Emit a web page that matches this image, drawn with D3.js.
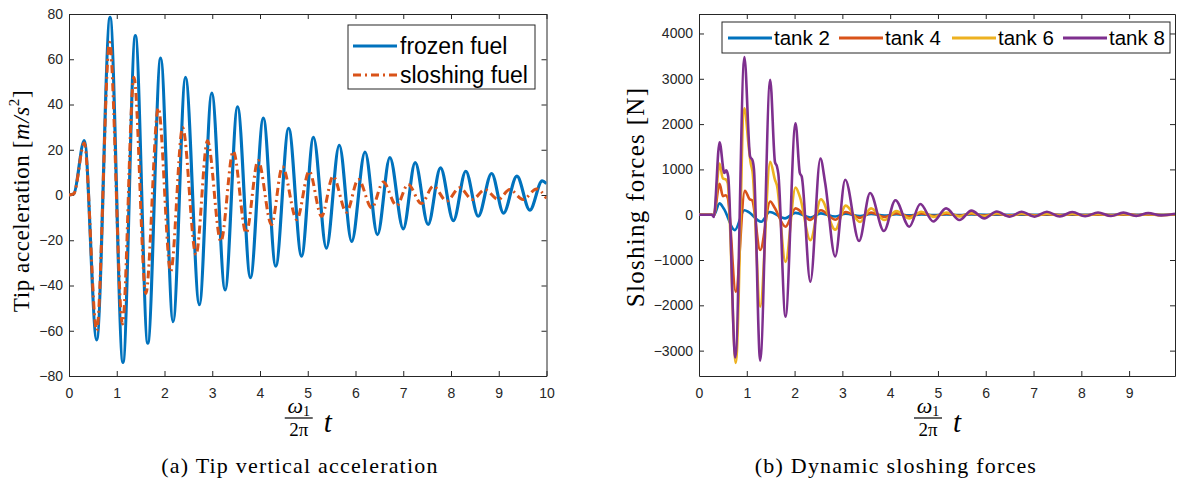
<!DOCTYPE html>
<html><head><meta charset="utf-8">
<script src="https://cdn.jsdelivr.net/npm/d3@7/dist/d3.min.js"></script>
<style>
body{margin:0;background:#fff;}
svg{display:block;}
.tick text{font-family:"Liberation Sans",Arial,sans-serif;font-size:14px;fill:#262626;}
.domain,.tick line{stroke:#262626;}
</style></head>
<body>
<script>
// ---------- DATA (a) Tip vertical acceleration ----------
const accelXTicks = [0,1,2,3,4,5,6,7,8,9,10];
const accelYTicks = [-80,-60,-40,-20,0,20,40,60,80];
const frozenT = [0,0.1,0.32,0.58,0.86,1.13,1.39,1.65,1.92,2.18,2.44,2.73,2.99,3.27,3.53,3.80,4.07,4.33,4.60,4.87,5.12,5.39,5.66,5.92,6.20,6.46,6.72,7.00,7.25,7.52,7.78,8.05,8.31,8.57,8.85,9.10,9.38,9.65,9.91,10];
const frozenV = [0,0.5,24,-64,78.5,-74,70.5,-65.5,60.5,-56,52,-48.5,45,-42,39,-36.5,34,-31.5,29.5,-27,25.5,-23.5,22,-20.5,19,-17.5,16.5,-15,14.3,-13,12,-11.3,10.5,-9.4,9.5,-8,8.3,-6.7,6.2,5];
const sloshT = [0,0.1,0.32,0.58,0.85,1.12,1.36,1.61,1.87,2.13,2.38,2.66,2.90,3.18,3.44,3.71,3.96,4.24,4.47,4.77,5.03,5.29,5.53,5.81,6.06,6.34,6.58,6.86,7.10,7.38,7.63,7.91,8.18,8.45,8.71,8.99,9.23,9.51,9.79,10];
const sloshV = [0,0.5,23,-60,67.5,-57,52,-43.5,38.5,-33.8,29.8,-26.4,24,-20.5,19.4,-16.8,15.3,-13.1,12.5,-10.9,10.5,-9.4,8.3,-7.6,6.9,-5.7,5.7,-4.7,4.7,-3.8,3.9,-2.7,3.2,-2,2.4,-2,2.4,-2,2.7,-1.5];
const accelSeries = ["frozen fuel","sloshing fuel"];

// ---------- DATA (b) Dynamic sloshing forces ----------
const forceXTicks = [0,1,2,3,4,5,6,7,8,9];
const forceYTicks = [-3000,-2000,-1000,0,1000,2000,3000,4000];
const tankNames = ["tank 2","tank 4","tank 6","tank 8"];
const tank2T = [0,0.27,0.31,0.43,0.52,0.75,0.95,1.05,1.30,1.48,1.80,2.02,2.33,2.55,2.85,3.07,3.37,3.60,3.88,4.13,4.40,4.65,4.92,5.18,5.45,5.70,6.0,7.0,8.0,9.0,9.96];
const tank2V = [0,0,-10,250,130,-340,100,50,-155,60,-80,40,-60,30,-40,20,-30,15,-20,10,-15,8,-10,5,-5,3,0,0,0,0,0];
const tank4T = [0,0.27,0.31,0.43,0.50,0.56,0.60,0.77,0.96,1.06,1.11,1.28,1.49,1.58,1.81,2.02,2.33,2.55,2.85,3.07,3.37,3.60,3.88,4.13,4.40,4.65,4.92,5.18,5.45,5.70,5.97,6.23,6.50,6.75,7.02,7.28,7.55,7.81,8.08,8.35,8.62,8.88,9.15,9.40,9.67,9.96];
const tank4V = [0,0,-20,680,410,430,380,-1700,530,340,320,-780,290,160,-265,140,-117,100,-110,60,-70,45,-50,35,-40,30,-30,25,-25,20,-20,15,-15,15,-12,12,-10,10,-10,8,-8,8,-6,6,-5,5];
const tank6T = [0,0.27,0.31,0.43,0.50,0.56,0.60,0.77,0.95,1.04,1.08,1.12,1.28,1.49,1.59,1.63,1.81,2.02,2.11,2.33,2.55,2.85,3.07,3.37,3.60,3.88,4.13,4.40,4.65,4.92,5.18,5.45,5.70,5.97,6.23,6.50,6.75,7.02,7.28,7.55,7.81,8.08,8.35,8.62,8.88,9.15,9.40,9.67,9.96];
const tank6V = [0,0,-30,1130,800,780,700,-3270,2350,1500,1150,950,-2030,1170,770,650,-1040,600,400,-560,340,-330,200,-160,140,-117,80,-80,66,-50,50,-40,40,-35,35,-30,30,-25,25,-20,20,-18,18,-15,15,-12,12,-10,10];
const tank8T = [0,0.27,0.31,0.43,0.53,0.57,0.61,0.76,0.95,1.07,1.12,1.15,1.28,1.49,1.59,1.63,1.66,1.81,2.02,2.11,2.15,2.33,2.54,2.64,2.85,3.06,3.35,3.58,3.87,4.11,4.40,4.63,4.90,5.17,5.45,5.70,5.97,6.23,6.50,6.75,7.02,7.28,7.55,7.81,8.08,8.35,8.62,8.88,9.15,9.40,9.67,9.96];
const tank8V = [0,0,-50,1600,920,980,850,-3150,3480,1280,1200,1000,-3220,2980,1160,1070,900,-2250,2020,920,840,-1480,1240,700,-920,770,-580,480,-360,320,-265,235,-150,140,-117,90,-80,70,-45,66,-45,66,-40,60,-35,50,-30,45,-25,35,-15,20];

// ---------- LAYOUT ----------
const W = 1184, H = 490;
const colors = {blue:"#0072BD", orange:"#D95319", yellow:"#EDB120", purple:"#7E2F8E"};
const svg = d3.select("body").append("svg").attr("width",W).attr("height",H);
const serif = "'Liberation Serif','Times New Roman',serif";
const sans = "'Liberation Sans',Arial,sans-serif";

function zip(T,V){return T.map((t,i)=>({t:t,v:V[i]}));}

function drawAxes(g, x, y, xt, yt, fmt){
  const [x0,x1] = x.range(), [y0,y1] = y.range();
  g.append("rect").attr("x",x0).attr("y",y1).attr("width",x1-x0).attr("height",y0-y1).attr("fill","#fff");
  g.append("g").attr("transform",`translate(0,${y0})`)
    .call(d3.axisBottom(x).tickValues(xt).tickSizeInner(-5).tickSizeOuter(0).tickPadding(12).tickFormat(fmt||d3.format("d")));
  g.append("g").attr("transform",`translate(0,${y1})`)
    .call(d3.axisTop(x).tickValues(xt).tickSizeInner(-5).tickSizeOuter(0).tickFormat(""));
  g.append("g").attr("transform",`translate(${x0},0)`)
    .call(d3.axisLeft(y).tickValues(yt).tickSizeInner(-5).tickSizeOuter(0).tickPadding(6).tickFormat(d3.format("d")));
  g.append("g").attr("transform",`translate(${x1},0)`)
    .call(d3.axisRight(y).tickValues(yt).tickSizeInner(-5).tickSizeOuter(0).tickFormat(""));
}

function clip(id, x, y){
  const [x0,x1] = x.range(), [y0,y1] = y.range();
  svg.append("clipPath").attr("id",id).append("rect")
    .attr("x",x0).attr("y",y1).attr("width",x1-x0).attr("height",y0-y1);
}

function xLabel(cx){
  const g = svg.append("g").attr("font-family",serif).attr("fill","#000");
  const fx = cx-9;
  const num = g.append("text").attr("x",fx).attr("y",413).attr("text-anchor","middle");
  num.append("tspan").attr("font-style","italic").attr("font-size",22).text("ω");
  num.append("tspan").attr("font-size",14).attr("dy",3).text("1");
  g.append("line").attr("x1",fx-14).attr("x2",fx+14).attr("y1",418).attr("y2",418).attr("stroke","#000").attr("stroke-width",1.2);
  g.append("text").attr("x",fx).attr("y",436).attr("text-anchor","middle").attr("font-size",19).text("2π");
  g.append("text").attr("x",cx+20).attr("y",432).attr("text-anchor","middle").attr("font-style","italic").attr("font-size",29).text("t");
}

// ---------- PANEL (a) ----------
const xa = d3.scaleLinear().domain([0,10]).range([69,546.5]);
const ya = d3.scaleLinear().domain([-80,80]).range([376,14]);
const ga = svg.append("g");
drawAxes(ga, xa, ya, accelXTicks, accelYTicks);
clip("clipA", xa, ya);
const lineA = d3.line().x(d=>xa(d.t)).y(d=>ya(d.v)).curve(d3.curveMonotoneX);
ga.append("path").attr("clip-path","url(#clipA)").attr("d",lineA(zip(frozenT,frozenV)))
  .attr("fill","none").attr("stroke",colors.blue).attr("stroke-width",3.2);
ga.append("path").attr("clip-path","url(#clipA)").attr("d",lineA(zip(sloshT,sloshV)))
  .attr("fill","none").attr("stroke",colors.orange).attr("stroke-width",3).attr("stroke-dasharray","8,4,2,4");

// legend (a)
const la = ga.append("g");
la.append("rect").attr("x",348).attr("y",25).attr("width",187).attr("height",64).attr("fill","#fff").attr("stroke","#262626").attr("stroke-width",1);
[[accelSeries[0],colors.blue,null,46],[accelSeries[1],colors.orange,"8,4,2,4",75]].forEach(([name,c,dash,yy])=>{
  la.append("line").attr("x1",353).attr("x2",397).attr("y1",yy).attr("y2",yy).attr("stroke",c).attr("stroke-width",3).attr("stroke-dasharray",dash);
  la.append("text").attr("x",400).attr("y",yy).attr("dy","0.35em").attr("font-family",sans).attr("font-size",23).attr("fill","#000").text(name);
});

// y label (a)
const yla = svg.append("text").attr("transform","translate(29,201) rotate(-90)").attr("text-anchor","middle")
  .attr("font-family",serif).attr("font-size",23).attr("letter-spacing",0.6).attr("fill","#000");
yla.append("tspan").text("Tip acceleration [");
yla.append("tspan").attr("font-style","italic").text("m/s");
yla.append("tspan").attr("font-size",15).attr("dy",-10).text("2");
yla.append("tspan").attr("dy",10).text("]");
xLabel((69+546.5)/2);
svg.append("text").attr("x",300).attr("y",473).attr("text-anchor","middle").attr("font-family",serif)
  .attr("font-size",22).attr("letter-spacing",1.2).attr("fill","#000").text("(a) Tip vertical acceleration");

// ---------- PANEL (b) ----------
const xb = d3.scaleLinear().domain([0,9.96]).range([699,1175]);
const yb = d3.scaleLinear().domain([-3560,4430]).range([376,14]);
const gb = svg.append("g");
drawAxes(gb, xb, yb, forceXTicks, forceYTicks);
clip("clipB", xb, yb);
const lineB = d3.line().x(d=>xb(d.t)).y(d=>yb(d.v)).curve(d3.curveMonotoneX);
const tanks = [[tank2T,tank2V,colors.blue],[tank4T,tank4V,colors.orange],[tank6T,tank6V,colors.yellow],[tank8T,tank8V,colors.purple]];
tanks.forEach(([T,V,c])=>{
  gb.append("path").attr("clip-path","url(#clipB)").attr("d",lineB(zip(T,V)))
    .attr("fill","none").attr("stroke",c).attr("stroke-width",2.6).attr("stroke-linejoin","round");
});
// legend (b)
const lb = gb.append("g");
lb.append("rect").attr("x",722).attr("y",22).attr("width",448).attr("height",31).attr("fill","#fff").attr("stroke","#262626").attr("stroke-width",1);
const legX = [728,839,952,1063];
tankNames.forEach((n,i)=>{
  lb.append("line").attr("x1",legX[i]).attr("x2",legX[i]+44).attr("y1",38).attr("y2",38).attr("stroke",tanks[i][2]).attr("stroke-width",3);
  lb.append("text").attr("x",legX[i]+46).attr("y",38).attr("dy","0.35em").attr("font-family",sans).attr("font-size",20.5).attr("fill","#000").text(n);
});
svg.append("text").attr("transform","translate(644,197) rotate(-90)").attr("text-anchor","middle")
  .attr("font-family",serif).attr("font-size",25).attr("letter-spacing",1.3).attr("fill","#000").text("Sloshing forces [N]");
xLabel((699+1175)/2);
svg.append("text").attr("x",896).attr("y",473).attr("text-anchor","middle").attr("font-family",serif)
  .attr("font-size",22).attr("letter-spacing",1.2).attr("fill","#000").text("(b) Dynamic sloshing forces");
</script>
</body></html>
